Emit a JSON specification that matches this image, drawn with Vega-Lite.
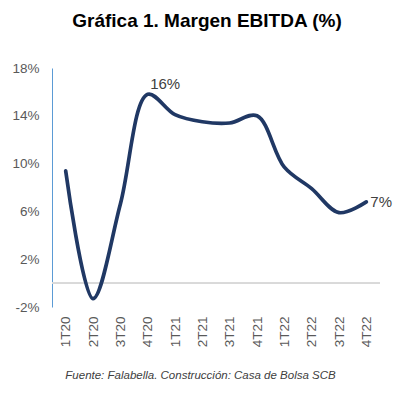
{
  "$schema": "https://vega.github.io/schema/vega-lite/v6.json",
  "width": 328,
  "height": 239,
  "autosize": "none",
  "padding": {"left": 52, "top": 68, "right": 17, "bottom": 87},
  "background": "white",
  "config": {"view": {"stroke": null}, "font": "Liberation Sans"},
  "title": {
    "text": "Gráfica 1. Margen EBITDA (%)",
    "font": "Liberation Sans",
    "fontSize": 19,
    "fontWeight": "bold",
    "color": "#000000",
    "anchor": "middle",
    "dx": -9,
    "offset": 30
  },
  "data": {
    "values": [
      {"q": "1T20", "v": 9.4},
      {"q": "2T20", "v": -1.3},
      {"q": "3T20", "v": 6.6},
      {"q": "4T20", "v": 15.8, "label": "16%"},
      {"q": "1T21", "v": 14.1},
      {"q": "2T21", "v": 13.5},
      {"q": "3T21", "v": 13.4},
      {"q": "4T21", "v": 14.0},
      {"q": "1T22", "v": 9.7},
      {"q": "2T22", "v": 7.9},
      {"q": "3T22", "v": 5.9},
      {"q": "4T22", "v": 6.8, "label": "7%"}
    ]
  },
  "encoding": {
    "x": {
      "field": "q",
      "type": "ordinal",
      "sort": null,
      "scale": {"type": "point", "padding": 0.5},
      "axis": {
        "title": "Fuente: Falabella. Construcción: Casa de Bolsa SCB",
        "titleFont": "Liberation Sans",
        "titleFontSize": 11.5,
        "titleFontStyle": "italic",
        "titleFontWeight": "normal",
        "titleColor": "#404040",
        "titleX": 148,
        "titlePadding": 23,
        "labelAngle": -90,
        "labelFontSize": 13.5,
        "labelColor": "#595959",
        "labelPadding": 9,
        "ticks": false,
        "domain": false,
        "grid": false
      }
    }
  },
  "layer": [
    {
      "mark": {"type": "rule", "color": "#D9D9D9", "strokeWidth": 1},
      "encoding": {"y": {"datum": 0}, "x": {"value": 0}, "x2": {"value": 328}}
    },
    {
      "mark": {"type": "line", "color": "#203864", "strokeWidth": 3.7, "interpolate": "catmull-rom", "strokeCap": "round"},
      "encoding": {
        "y": {
          "field": "v",
          "type": "quantitative",
          "scale": {"domain": [-2, 18], "nice": false, "zero": false},
          "axis": {
            "title": null,
            "values": [-2, 2, 6, 10, 14, 18],
            "labelExpr": "datum.value + '%'",
            "labelFontSize": 13.5,
            "labelColor": "#595959",
            "labelPadding": 13,
            "ticks": false,
            "grid": false,
            "domain": true,
            "domainColor": "#5B9BD5",
            "domainWidth": 1
          }
        }
      }
    },
    {
      "transform": [{"filter": "datum.label == '16%'"}],
      "mark": {"type": "text", "fontSize": 15, "color": "#404040", "align": "center", "baseline": "middle", "dx": 17.5, "dy": -10},
      "encoding": {
        "y": {"field": "v", "type": "quantitative"},
        "text": {"field": "label"}
      }
    },
    {
      "transform": [{"filter": "datum.label == '7%'"}],
      "mark": {"type": "text", "fontSize": 15, "color": "#404040", "align": "left", "baseline": "middle", "dx": 4, "dy": 0},
      "encoding": {
        "y": {"field": "v", "type": "quantitative"},
        "text": {"field": "label"}
      }
    }
  ]
}
